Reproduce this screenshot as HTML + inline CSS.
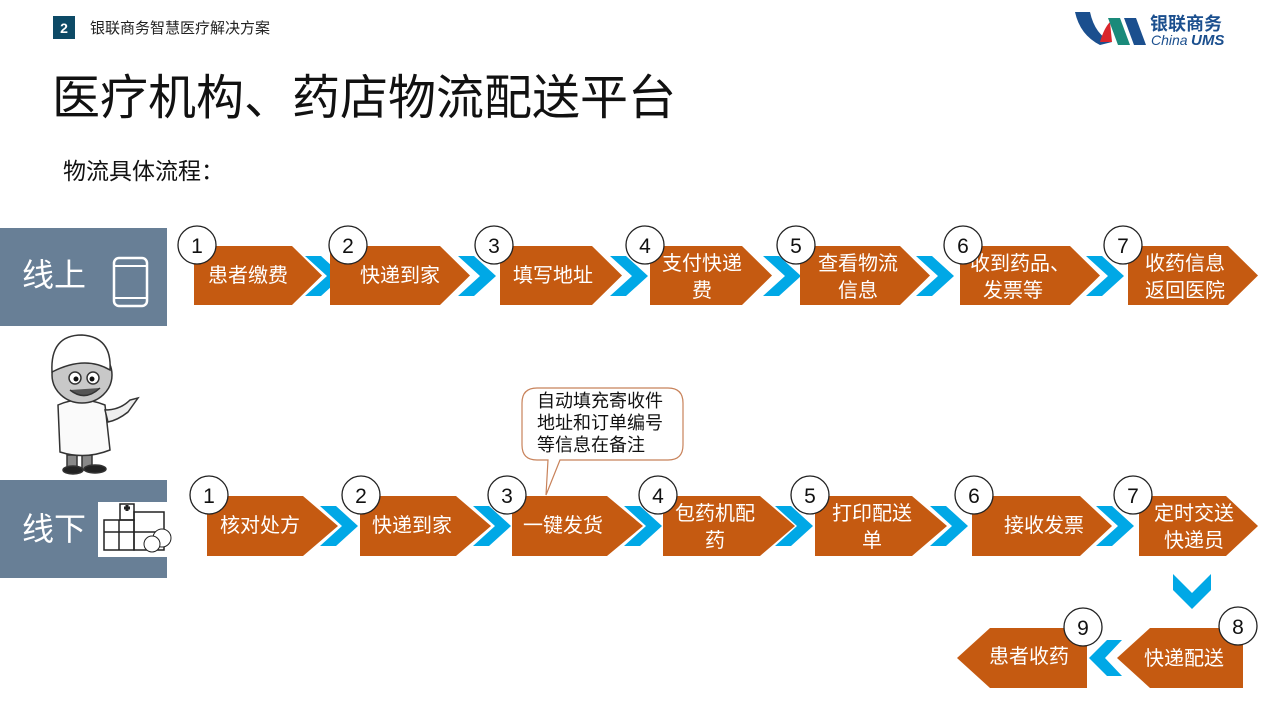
<!DOCTYPE html>
<html><head><meta charset="utf-8"><style>
html,body{margin:0;padding:0;background:#fff;}
svg text{font-family:"Liberation Sans","Noto Sans CJK SC",sans-serif;}
</style></head><body>
<svg width="1280" height="720" viewBox="0 0 1280 720" xmlns="http://www.w3.org/2000/svg">
<defs>
<g id="chev"><polygon points="0,-3 16,-3 38,17 16,37 0,37 22,17" fill="#00a8e6"/></g>
</defs>
<!-- header -->
<rect x="53" y="16" width="22" height="23" fill="#0d4a66"/>
<text x="64" y="33" font-size="14" fill="#fff" text-anchor="middle" font-weight="bold">2</text>
<text x="90" y="33" font-size="15" fill="#222">银联商务智慧医疗解决方案</text>
<!-- logo -->
<path d="M1075,12 L1090,12 Q1095,35 1112,42 L1100,45 Q1080,35 1075,12Z" fill="#1b4f8e"/>
<path d="M1100,42 Q1104,28 1110,22 L1112,42Z" fill="#d9262b"/>
<polygon points="1108,18 1120,18 1130,45 1118,45" fill="#1a8a7a"/>
<polygon points="1124,18 1136,18 1146,45 1134,45" fill="#1b4f8e"/>
<text x="1150" y="30" font-size="18" font-weight="bold" fill="#1b4f8e">银联商务</text>
<text x="1151" y="45" font-size="14" font-style="italic" fill="#1b4f8e">China</text>
<text x="1191" y="45" font-size="15" font-style="italic" font-weight="bold" fill="#1b4f8e">UMS</text>
<!-- title -->
<text x="52" y="114" font-size="48" fill="#111">医疗机构、药店物流配送平台</text>
<text x="63" y="179" font-size="23" fill="#111">物流具体流程：</text>

<!-- online label -->
<rect x="0" y="228" width="167" height="98" fill="#687f96"/>
<text x="22" y="286" font-size="32" fill="#fff">线上</text>
<rect x="114" y="258" width="33" height="48" rx="5" fill="none" stroke="#fff" stroke-width="2.5"/>
<line x1="114" y1="266" x2="147" y2="266" stroke="#fff" stroke-width="2"/>
<line x1="114" y1="298" x2="147" y2="298" stroke="#fff" stroke-width="2"/>

<!-- offline label -->
<rect x="0" y="480" width="167" height="98" fill="#687f96"/>
<text x="22" y="540" font-size="32" fill="#fff">线下</text>
<rect x="98" y="502" width="78" height="55" fill="#fff"/>
<g stroke="#222" stroke-width="1.5" fill="none">
<rect x="104" y="520" width="30" height="30"/><rect x="134" y="512" width="30" height="38"/>
<line x1="104" y1="532" x2="164" y2="532"/><line x1="119" y1="520" x2="119" y2="550"/>
<rect x="120" y="504" width="14" height="16"/>
</g>
<path d="M124,508 h6 M127,505 v6" stroke="#222" stroke-width="3"/>
<circle cx="162" cy="538" r="9" fill="#fff" stroke="#222"/><circle cx="152" cy="544" r="8" fill="#fff" stroke="#222"/>

<!-- doctor -->
<g stroke="#333" stroke-width="1.5">
<rect x="67" y="455" width="10" height="15" fill="#888"/><rect x="82" y="455" width="10" height="15" fill="#888"/>
<ellipse cx="73" cy="470" rx="10" ry="4" fill="#222"/><ellipse cx="95" cy="469" rx="11" ry="4" fill="#222"/>
<path d="M58,405 Q80,395 105,405 L110,450 Q85,460 60,452Z" fill="#fafafa"/>
<path d="M105,410 Q120,410 130,400 L138,398 L128,412 Q118,420 108,422Z" fill="#eee"/>
<ellipse cx="82" cy="375" rx="30" ry="28" fill="#c8c8c8"/>
<path d="M52,372 Q50,335 82,335 Q112,337 110,370 Q85,355 52,372Z" fill="#fff"/>
<circle cx="75" cy="378" r="6" fill="#fff"/><circle cx="93" cy="378" r="6" fill="#fff"/>
<path d="M70,390 Q85,402 100,388" fill="#555"/>
</g>
<circle cx="76" cy="379" r="2.5" fill="#111"/><circle cx="92" cy="379" r="2.5" fill="#111"/>

<!-- top row chevrons -->
<use href="#chev" x="305" y="259"/><use href="#chev" x="458" y="259"/><use href="#chev" x="610" y="259"/>
<use href="#chev" x="763" y="259"/><use href="#chev" x="916" y="259"/><use href="#chev" x="1086" y="259"/>
<g fill="#c55a11">
<polygon points="194,246 292,246 322,275.5 292,305 194,305"/>
<polygon points="330,246 440,246 470,275.5 440,305 330,305"/>
<polygon points="500,246 592,246 622,275.5 592,305 500,305"/>
<polygon points="650,246 742,246 772,275.5 742,305 650,305"/>
<polygon points="800,246 900,246 930,275.5 900,305 800,305"/>
<polygon points="960,246 1070,246 1100,275.5 1070,305 960,305"/>
<polygon points="1128,246 1228,246 1258,275.5 1228,305 1128,305"/>
</g>
<g font-size="20" fill="#fff" text-anchor="middle">
<text x="248" y="282">患者缴费</text>
<text x="400" y="282">快递到家</text>
<text x="553" y="282">填写地址</text>
<text x="702" y="270">支付快递</text><text x="702" y="297">费</text>
<text x="858" y="270">查看物流</text><text x="858" y="297">信息</text>
<text x="1020" y="270">收到药品、</text><text x="1013" y="297">发票等</text>
<text x="1185" y="270">收药信息</text><text x="1185" y="297">返回医院</text>
</g>
<g fill="#fff" stroke="#222" stroke-width="1.3">
<circle cx="197" cy="245" r="19"/><circle cx="348" cy="245" r="19"/><circle cx="494" cy="245" r="19"/>
<circle cx="645" cy="245" r="19"/><circle cx="796" cy="245" r="19"/><circle cx="963" cy="245" r="19"/><circle cx="1123" cy="245" r="19"/>
</g>
<g font-size="21" fill="#111" text-anchor="middle">
<text x="197" y="253">1</text><text x="348" y="253">2</text><text x="494" y="253">3</text><text x="645" y="253">4</text>
<text x="796" y="253">5</text><text x="963" y="253">6</text><text x="1123" y="253">7</text>
</g>

<!-- callout -->
<path d="M537,388 H668 Q683,388 683,403 V445 Q683,460 668,460 H560 L546,495 L548,460 H537 Q522,460 522,445 V403 Q522,388 537,388Z" fill="#fff" stroke="#c8825a" stroke-width="1.2"/>
<g font-size="18" fill="#111">
<text x="537" y="407">自动填充寄收件</text>
<text x="537" y="429">地址和订单编号</text>
<text x="537" y="451">等信息在备注</text>
</g>

<!-- bottom row -->
<use href="#chev" x="320" y="509"/><use href="#chev" x="473" y="509"/><use href="#chev" x="624" y="509"/>
<use href="#chev" x="775" y="509"/><use href="#chev" x="930" y="509"/><use href="#chev" x="1096" y="509"/>
<g fill="#c55a11">
<polygon points="207,496 303,496 338,526 303,556 207,556"/>
<polygon points="360,496 456,496 491,526 456,556 360,556"/>
<polygon points="512,496 607,496 643,526 607,556 512,556"/>
<polygon points="663,496 760,496 795,526 760,556 663,556"/>
<polygon points="815,496 912,496 947,526 912,556 815,556"/>
<polygon points="972,496 1080,496 1112,526 1080,556 972,556"/>
<polygon points="1139,496 1226,496 1258,526 1226,556 1139,556"/>
<polygon points="1150,628 1243,628 1243,688 1150,688 1117,658"/>
<polygon points="990,628 1087,628 1087,688 990,688 957,658"/>
</g>
<polygon points="1173,574 1192,593 1211,574 1211,590 1192,609 1173,590" fill="#00a8e6"/>
<polygon points="1107,640 1122,640 1105,658 1122,676 1107,676 1089,658" fill="#00a8e6"/>
<g font-size="20" fill="#fff" text-anchor="middle">
<text x="260" y="532">核对处方</text>
<text x="412" y="532">快递到家</text>
<text x="563" y="532">一键发货</text>
<text x="715" y="520">包药机配</text><text x="715" y="547">药</text>
<text x="872" y="520">打印配送</text><text x="872" y="547">单</text>
<text x="1044" y="532">接收发票</text>
<text x="1194" y="520">定时交送</text><text x="1194" y="547">快递员</text>
<text x="1184" y="665">快递配送</text>
<text x="1029" y="663">患者收药</text>
</g>
<g fill="#fff" stroke="#222" stroke-width="1.3">
<circle cx="209" cy="495" r="19"/><circle cx="361" cy="495" r="19"/><circle cx="507" cy="495" r="19"/>
<circle cx="658" cy="495" r="19"/><circle cx="810" cy="495" r="19"/><circle cx="974" cy="495" r="19"/>
<circle cx="1133" cy="495" r="19"/><circle cx="1238" cy="626" r="19"/><circle cx="1083" cy="627" r="19"/>
</g>
<g font-size="21" fill="#111" text-anchor="middle">
<text x="209" y="503">1</text><text x="361" y="503">2</text><text x="507" y="503">3</text><text x="658" y="503">4</text>
<text x="810" y="503">5</text><text x="974" y="503">6</text><text x="1133" y="503">7</text>
<text x="1238" y="634">8</text><text x="1083" y="635">9</text>
</g>
</svg>
</body></html>
